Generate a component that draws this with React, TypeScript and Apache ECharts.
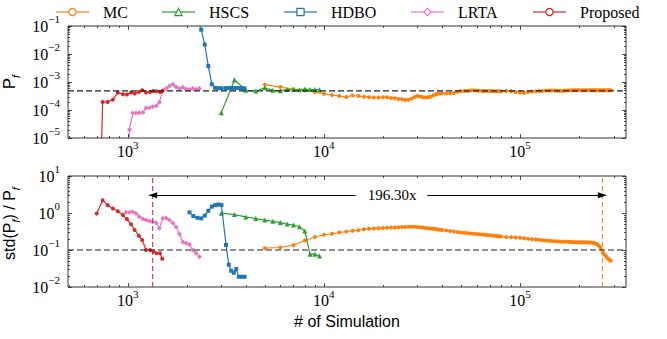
import React, { useEffect, useRef } from "react";
import * as echarts from "echarts";

const SERIF = "Liberation Serif";
const SANS = "Liberation Sans";

const methodNames = ["MC", "HSCS", "HDBO", "LRTA", "Proposed"];
const methodColors = ["#ff7f0e", "#2ca02c", "#1f77b4", "#e377c2", "#d62728"];
const methodSymbols = ["circle", "triangle", "rect", "diamond", "circle"];
const methodSymbolSizes = [4, 5, 4, 5, 4];
const legendLeft = [55, 161, 283, 410, 532];

// tick label exponents
const xTickExps = [3, 4, 5];
const yTopTickExps = [-5, -4, -3, -2, -1];
const yBotTickExps = [-2, -1, 0, 1];

// reference lines / annotation
const pfTarget = 4.8e-4;
const cvTarget = 0.1;
const proposedStop = 1340;
const mcStop = 263000;
const arrowLevel = 3;
const arrowGapLeft = 14500;
const arrowGapRight = 33700;
const speedupLabelAt = 22300;
const speedupText = "196.30x";

// ---------- data ----------
// Proposed
const propN = [695, 745, 790, 840, 890, 945, 990, 1040, 1085, 1140, 1185, 1240, 1300, 1350, 1400, 1460, 1500];
const propPf = [1e-12, 1.93e-4, 1.93e-4, 2.35e-4, 4.18e-4, 3.64e-4, 3.55e-4, 4.18e-4, 3.85e-4, 4.4e-4, 5.06e-4, 4.18e-4, 4.4e-4, 4.77e-4, 4.65e-4, 4.4e-4, 4.65e-4];
const propCv = [0.975, 2.22, 1.63, 1.33, 1.12, 0.88, 0.685, 0.494, 0.347, 0.244, 0.187, 0.1, 0.1, 0.091, 0.082, 0.082, 0.058];

// LRTA
const lrtaN = [980, 1020, 1060, 1100, 1145, 1195, 1240, 1290, 1340, 1395, 1450, 1510, 1570, 1630, 1700, 1765, 1835, 1910, 1985, 2065, 2145, 2230, 2320];
const lrtaPf = [1e-12, 2.0e-5, 7.8e-5, 7.8e-5, 8.0e-5, 8.2e-5, 1.18e-4, 1.2e-4, 1.3e-4, 1.39e-4, 1.9e-4, 5.06e-4, 5.8e-4, 7.2e-4, 8.3e-4, 6.6e-4, 5.8e-4, 6.5e-4, 5.5e-4, 5.35e-4, 5.8e-4, 5.5e-4, 5.8e-4];
const lrtaCv = [1.04, 1.04, 1.08, 0.976, 0.79, 0.685, 0.645, 0.605, 0.58, 0.545, 0.385, 0.72, 0.73, 0.645, 0.535, 0.42, 0.27, 0.165, 0.152, 0.14, 0.1, 0.082, 0.066];

// HDBO
const hdboN = [2065, 2160, 2265, 2370, 2470, 2575, 2685, 2790, 2900, 3005, 3170, 3275, 3370, 3475, 3575, 3685, 3815, 3940];
const hdboPf = [1.5, 0.6, 0.2, 0.074, 0.0217, 3.7e-3, 8.3e-4, 6.2e-4, 6.0e-4, 6.0e-4, 6.0e-4, 6.1e-4, 6.1e-4, 6.1e-4, 6.1e-4, 6.05e-4, 6.0e-4, 5.9e-4];
const hdboCv = [1.04, 0.826, 0.743, 0.716, 0.851, 1.146, 1.49, 1.63, 1.7, 1.65, 0.137, 0.04, 0.0274, 0.0242, 0.0305, 0.0189, 0.0189, 0.0189];

// HSCS
const hscsN = [3000, 3500, 4000, 4500, 5000, 5500, 6000, 6500, 7000, 7500, 8000, 8500, 9000, 9500];
const hscsPf = [7.9e-5, 1.2e-3, 5.05e-4, 4.77e-4, 6.2e-4, 5.05e-4, 4.9e-4, 5.35e-4, 5.35e-4, 5.3e-4, 5.6e-4, 5.35e-4, 5.35e-4, 5.3e-4];
const hscsCv = [0.99, 0.905, 0.785, 0.706, 0.644, 0.594, 0.552, 0.503, 0.473, 0.426, 0.326, 0.077, 0.077, 0.069];

// MC
const mcN = [
  5000, 6000, 7000, 8000, 9000, 10000, 11000, 12000, 13000, 14000, 15000, 16000, 17000, 18000, 19000, 20000,
  21000, 22000, 23000, 24000, 25000, 26000, 27000, 28000, 29000, 30000, 31000, 32000, 33000, 34000, 35000,
  36000, 37000, 38000, 39000, 40000,
  42000, 44000, 46000, 48000, 50000, 52000, 54000, 56000, 58000, 60000, 62000, 64000, 66000, 68000, 70000,
  72000, 74000, 76000, 78000, 80000,
  85000, 90000, 95000, 100000, 105000, 110000, 115000, 120000, 125000, 130000, 135000, 140000, 145000, 150000,
  155000, 160000, 165000, 170000, 175000, 180000, 185000, 190000, 195000, 200000, 205000, 210000, 215000,
  220000, 225000, 230000, 235000, 240000, 245000, 250000, 255000, 260000, 265000, 270000, 275000, 280000,
  285000, 290000,
];
const mcPf = [
  8.07e-4, 6.58e-4, 5.48e-4, 4.97e-4, 4.35e-4, 3.82e-4, 3.4e-4, 3.19e-4, 2.91e-4, 3.3e-4, 3.14e-4, 2.98e-4, 2.86e-4, 2.77e-4, 2.77e-4, 2.84e-4,
  2.84e-4, 2.7e-4, 2.62e-4, 2.49e-4, 2.41e-4, 2.26e-4, 2.3e-4, 2.55e-4, 2.89e-4, 3.14e-4, 3.01e-4, 2.84e-4, 2.79e-4, 2.84e-4, 2.96e-4,
  3.3e-4, 3.58e-4, 3.82e-4, 3.92e-4, 3.95e-4,
  3.88e-4, 3.92e-4, 4.08e-4, 4.47e-4, 4.77e-4, 4.77e-4, 4.81e-4, 4.93e-4, 5.06e-4, 4.97e-4, 4.89e-4, 4.81e-4, 4.77e-4, 4.73e-4, 4.73e-4,
  4.69e-4, 4.65e-4, 4.65e-4, 4.65e-4, 4.69e-4,
  4.73e-4, 4.69e-4, 4.43e-4, 4.18e-4, 4.11e-4, 4.39e-4, 4.58e-4, 4.65e-4, 4.73e-4, 4.81e-4, 4.85e-4, 4.93e-4, 5.01e-4, 4.97e-4,
  4.89e-4, 4.85e-4, 4.81e-4, 4.93e-4, 5.01e-4, 5.06e-4, 5.08e-4, 5.05e-4, 5.03e-4, 5.06e-4, 5.1e-4, 5.08e-4, 5.06e-4,
  5.04e-4, 5.06e-4, 5.09e-4, 5.07e-4, 5.05e-4, 5.06e-4, 5.08e-4, 5.06e-4, 5.04e-4, 5.05e-4, 5.07e-4, 5.06e-4, 5.05e-4,
  5.06e-4, 5.05e-4,
];
const mcCv = [
  0.112, 0.117, 0.135, 0.18, 0.225, 0.258, 0.274, 0.297, 0.314, 0.33, 0.343, 0.365, 0.374, 0.383, 0.388, 0.393,
  0.397, 0.403, 0.408, 0.413, 0.415, 0.421, 0.423, 0.426, 0.423, 0.418, 0.41, 0.403, 0.395, 0.388, 0.383,
  0.376, 0.369, 0.36, 0.353, 0.347,
  0.336, 0.326, 0.316, 0.307, 0.299, 0.292, 0.286, 0.281, 0.276, 0.271, 0.266, 0.261, 0.258, 0.255, 0.25,
  0.247, 0.242, 0.239, 0.236, 0.232,
  0.226, 0.222, 0.217, 0.213, 0.208, 0.202, 0.196, 0.193, 0.188, 0.183, 0.181, 0.178, 0.176, 0.173,
  0.171, 0.169, 0.168, 0.167, 0.166, 0.165, 0.164, 0.163, 0.163, 0.162, 0.162, 0.161, 0.161,
  0.16, 0.16, 0.159, 0.158, 0.153, 0.148, 0.137, 0.123, 0.104, 0.0836, 0.0739, 0.0673, 0.0595, 0.0542,
  0.0509,
];

const methodN = [mcN, hscsN, hdboN, lrtaN, propN];
const methodPf = [mcPf, hscsPf, hdboPf, lrtaPf, propPf];
const methodCv = [mcCv, hscsCv, hdboCv, lrtaCv, propCv];

// axis ranges
const xMin = 496;
const xMax = 347000;
const yTopMin = 1e-5;
const yTopMax = 1e-1;
const yBotMin = 1e-2;
const yBotMax = 10;

const zip = (a: number[], b: number[]) => a.map((v, i) => [v, b[i]]);

const fmtPow = (allowed: number[]) => (v: number) => {
  const l = Math.log10(v);
  const e = Math.round(l);
  if (Math.abs(l - e) > 1e-6 || allowed.indexOf(e) < 0) return "";
  return `{b|10}{s|${e < 0 ? "\u2212" + -e : e}}`;
};
const powRich = {
  b: { fontFamily: SERIF, fontSize: 16, lineHeight: 25, color: "#000" },
  s: { fontFamily: SERIF, fontSize: 11, lineHeight: 11, verticalAlign: "top", color: "#000" },
};

function logTicks(lo: number, hi: number) {
  const out: { v: number; major: boolean }[] = [];
  const e0 = Math.floor(Math.log10(lo));
  const e1 = Math.ceil(Math.log10(hi));
  for (let e = e0; e <= e1; e++) {
    for (let m = 1; m <= 9; m++) {
      const v = m * Math.pow(10, e);
      if (v >= lo * 0.9999 && v <= hi * 1.0001) out.push({ v, major: m === 1 });
    }
  }
  return out;
}

function tickSeries(idx: number, yLo: number, yHi: number) {
  const xt = logTicks(xMin, xMax);
  const yt = logTicks(yLo, yHi);
  return {
    type: "custom",
    xAxisIndex: idx,
    yAxisIndex: idx,
    silent: true,
    clip: false,
    z: 20,
    data: [[1000, yLo * 10]],
    renderItem: (params: any, api: any) => {
      const cs = params.coordSys;
      const top = cs.y;
      const bot = cs.y + cs.height;
      const left = cs.x;
      const right = cs.x + cs.width;
      const children: any[] = [];
      const st = { stroke: "#222", lineWidth: 0.8 };
      for (const t of xt) {
        const px = Math.round(api.coord([t.v, yLo])[0]) + 0.5;
        const L = t.major ? 4 : 2;
        children.push({ type: "line", shape: { x1: px, y1: bot, x2: px, y2: bot - L }, style: st });
        children.push({ type: "line", shape: { x1: px, y1: top, x2: px, y2: top + L }, style: st });
      }
      for (const t of yt) {
        const py = Math.round(api.coord([xMin, t.v])[1]) + 0.5;
        const L = t.major ? 4 : 2;
        children.push({ type: "line", shape: { x1: left, y1: py, x2: left + L, y2: py }, style: st });
        children.push({ type: "line", shape: { x1: right, y1: py, x2: right - L, y2: py }, style: st });
      }
      return { type: "group", children };
    },
  };
}

function methodSeries(i: number, idx: number, data: number[][], extra: any = {}) {
  return {
    type: "line",
    name: methodNames[i],
    xAxisIndex: idx,
    yAxisIndex: idx,
    data,
    symbol: methodSymbols[i],
    symbolSize: methodSymbolSizes[i],
    showSymbol: true,
    showAllSymbol: true,
    lineStyle: { color: methodColors[i], width: 1.2 },
    itemStyle: { color: methodColors[i] },
    emphasis: { disabled: true },
    z: 2 + i,
    ...extra,
  };
}

function refLine(idx: number, data: number[][], color: string, width: number, dash: number[]) {
  return {
    type: "line",
    xAxisIndex: idx,
    yAxisIndex: idx,
    data,
    symbol: "none",
    silent: true,
    clip: false,
    z: 15,
    lineStyle: { color, width, type: dash },
    emphasis: { disabled: true },
  };
}

export default function App() {
  const ref = useRef<HTMLDivElement>(null);
  useEffect(() => {
    document.body.style.margin = "0";
    if (!ref.current) return;
    const chart = echarts.init(ref.current, undefined, { renderer: "svg" });

    const axisLabelX = {
      formatter: fmtPow(xTickExps),
      rich: powRich,
      margin: 1,
      showMinLabel: false,
      showMaxLabel: false,
    };

    const series: any[] = [];
    for (let i = 0; i < 5; i++) {
      const extraBot: any = {};
      if (i === 0) {
        extraBot.markLine = {
          silent: true,
          symbol: "none",
          label: { show: false },
          z: 30,
          data: [
            [
              { coord: [arrowGapLeft, arrowLevel], symbol: "none" },
              {
                coord: [proposedStop, arrowLevel],
                symbol: "triangle",
                symbolSize: [6, 9],
                lineStyle: { color: "#000", width: 1.2, type: "solid" },
              },
            ],
            [
              { coord: [arrowGapRight, arrowLevel], symbol: "none" },
              {
                coord: [mcStop, arrowLevel],
                symbol: "triangle",
                symbolSize: [6, 9],
                lineStyle: { color: "#000", width: 1.2, type: "solid" },
              },
            ],
          ],
        };
        extraBot.markPoint = {
          silent: true,
          symbol: "circle",
          symbolSize: 0,
          data: [
            {
              coord: [speedupLabelAt, arrowLevel],
              label: {
                show: true,
                position: "inside",
                formatter: speedupText,
                fontFamily: SERIF,
                fontSize: 15,
                color: "#000",
              },
            },
          ],
        };
      }
      series.push(methodSeries(i, 0, zip(methodN[i], methodPf[i])));
      series.push(methodSeries(i, 1, zip(methodN[i], methodCv[i]), extraBot));
    }
    series.push(refLine(0, [[xMin, pfTarget], [xMax, pfTarget]], "#222", 1.2, [6, 3]));
    series.push(refLine(1, [[xMin, cvTarget], [xMax, cvTarget]], "#222", 1.2, [6, 3]));
    series.push(refLine(1, [[proposedStop, yBotMin], [proposedStop, yBotMax]], methodColors[4], 1, [5, 3]));
    series.push(refLine(1, [[mcStop, yBotMin], [mcStop, yBotMax]], methodColors[0], 1, [5, 3]));
    series.push(tickSeries(0, yTopMin, yTopMax));
    series.push(tickSeries(1, yBotMin, yBotMax));

    const option: any = {
      animation: false,
      legend: methodNames.map((n, i) => ({
        top: 4,
        left: legendLeft[i],
        padding: 0,
        itemWidth: 33,
        itemHeight: 9,
        textStyle: { fontFamily: SERIF, fontSize: 16, color: "#000", padding: [0, 0, 0, 9] },
        data: [
          {
            name: n,
            itemStyle: { color: "#fff", borderColor: methodColors[i], borderWidth: 1.2 },
            lineStyle: { color: methodColors[i], width: 2, opacity: 0.6 },
          },
        ],
      })),
      grid: [
        {
          left: 68, top: 26, width: 558, height: 112, show: true, borderColor: "#333", borderWidth: 1,
          containLabel: false, outerBoundsMode: "none",
        },
        {
          left: 68, top: 176, width: 558, height: 111, show: true, borderColor: "#333", borderWidth: 1,
          containLabel: false, outerBoundsMode: "none",
        },
      ],
      xAxis: [
        {
          type: "log",
          gridIndex: 0,
          min: xMin,
          max: xMax,
          axisLine: { show: false },
          axisTick: { show: false },
          splitLine: { show: false },
          axisLabel: axisLabelX,
        },
        {
          type: "log",
          gridIndex: 1,
          min: xMin,
          max: xMax,
          axisLine: { show: false },
          axisTick: { show: false },
          splitLine: { show: false },
          axisLabel: axisLabelX,
          name: "# of Simulation",
          nameLocation: "middle",
          nameGap: 26,
          nameTextStyle: { fontFamily: SANS, fontSize: 16, color: "#000" },
        },
      ],
      yAxis: [
        {
          type: "log",
          gridIndex: 0,
          min: yTopMin,
          max: yTopMax,
          axisLine: { show: false },
          axisTick: { show: false },
          splitLine: { show: false },
          axisLabel: { formatter: fmtPow(yTopTickExps), rich: powRich, margin: 8 },
          name: "{a|P}{s|f}",
          nameLocation: "middle",
          nameGap: 42,
          nameTextStyle: {
            rich: {
              a: { fontFamily: SANS, fontSize: 17, lineHeight: 20, verticalAlign: "top", color: "#000" },
              s: { fontFamily: SANS, fontSize: 11, fontStyle: "italic", lineHeight: 11, verticalAlign: "bottom", color: "#000" },
            },
          },
        },
        {
          type: "log",
          gridIndex: 1,
          min: yBotMin,
          max: yBotMax,
          axisLine: { show: false },
          axisTick: { show: false },
          splitLine: { show: false },
          axisLabel: { formatter: fmtPow(yBotTickExps), rich: powRich, margin: 8 },
          name: "{a|std(P}{s|f}{a|) / P}{s|f}",
          nameLocation: "middle",
          nameGap: 40,
          nameTextStyle: {
            padding: [0, 0, 0, 16],
            rich: {
              a: { fontFamily: SANS, fontSize: 16, lineHeight: 20, verticalAlign: "top", color: "#000" },
              s: { fontFamily: SANS, fontSize: 11, fontStyle: "italic", lineHeight: 11, verticalAlign: "bottom", color: "#000" },
            },
          },
        },
      ],
      series,
    };
    chart.setOption(option);
    return () => chart.dispose();
  }, []);
  return <div ref={ref} style={{ width: 667, height: 339 }} />;
}
